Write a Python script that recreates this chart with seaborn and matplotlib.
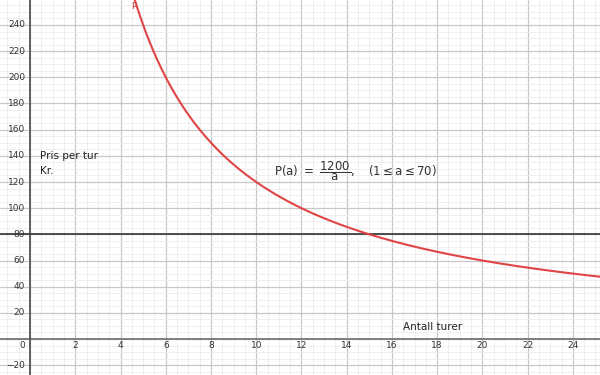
import numpy as np
import pandas as pd
import matplotlib
matplotlib.use("Agg")
import matplotlib.pyplot as plt
import seaborn as sns

# Data (from the chart's stated function P(a) = 1200 / a, 1 <= a <= 70)
numerator = 1200
a_min, a_max = 1, 70
a_values = np.linspace(a_min, a_max, 2000)
p_values = numerator / a_values
reference_price = 80

x_tick_values = [2, 4, 6, 8, 10, 12, 14, 16, 18, 20, 22, 24]
y_tick_values = [-20, 20, 40, 60, 80, 100, 120, 140, 160, 180, 200, 220, 240]

df = pd.DataFrame({"a": a_values, "P": p_values})

sns.set_theme(style="white")
plt.rcParams['font.family'] = ['DejaVu Sans']
plt.rcParams['mathtext.fontset'] = 'dejavusans'

fig = plt.figure(figsize=(6, 3.75), dpi=100)
ax = fig.add_axes([0, 0, 1, 1])

# curve
sns.lineplot(data=df, x="a", y="P", ax=ax, color="#e04545", lw=1.5, zorder=4, legend=False)
ax.set_xlabel("")
ax.set_ylabel("")

# grid
ax.set_xticks(np.arange(-2, 27, 2))
ax.set_xticks(np.arange(-2, 27, 0.5), minor=True)
ax.set_yticks(np.arange(-40, 281, 20))
ax.set_yticks(np.arange(-40, 281, 5), minor=True)
ax.grid(which="major", color="#c8c8c8", lw=0.9)
ax.grid(which="minor", color="#ececec", lw=0.6)
ax.set_axisbelow(True)
ax.tick_params(which="both", length=0, labelbottom=False, labelleft=False)
for s in ax.spines.values():
    s.set_visible(False)

xmin, xmax = -1.33, 25.2
ymin, ymax = -27.5, 259.1
ax.set_xlim(xmin, xmax)
ax.set_ylim(ymin, ymax)

# axes lines
ax.axhline(0, color="#777777", lw=1.3, zorder=2)
ax.axvline(0, color="#555555", lw=1.3, zorder=2)

# reference line
ax.axhline(reference_price, color="#333333", lw=1.2, zorder=3)

# tick labels
for xv in x_tick_values:
    ax.text(xv, -4.6, str(xv), ha="center", va="center", fontsize=6.5, color="#333333")
ax.text(-0.35, -4.6, "0", ha="center", va="center", fontsize=6.5, color="#333333")
for yv in y_tick_values:
    lab = str(yv) if yv >= 0 else "\u2212" + str(-yv)
    ax.text(-0.22, yv, lab, ha="right", va="center", fontsize=6.5, color="#333333")

# annotations
ax.text(0.45, 140, "Pris per tur", ha="left", va="center", fontsize=7.5, color="#222222")
ax.text(0.45, 128.5, "Kr.", ha="left", va="center", fontsize=7.5, color="#222222")
ax.text(16.5, 9.5, "Antall turer", ha="left", va="center", fontsize=7.5, color="#222222")
ax.text(10.78, 128, r"$\mathrm{P(a)}\ =\ \dfrac{1200}{\mathrm{a}},\quad(1\leq \mathrm{a}\leq 70)$",
        ha="left", va="center", fontsize=8.5, color="#333333")
ax.text(4.45, 254.5, "P", ha="left", va="center", fontsize=6.5, color="#d03030")

fig.savefig("out.png", dpi=100)
